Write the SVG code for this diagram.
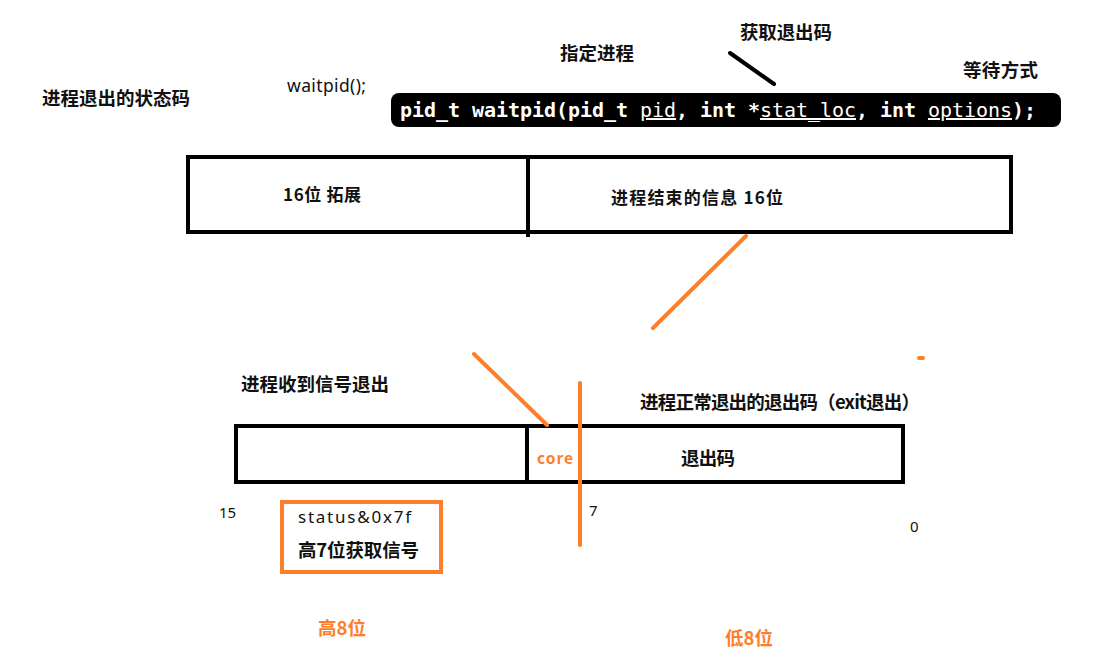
<svg xmlns="http://www.w3.org/2000/svg" width="1113" height="657" viewBox="0 0 1113 657">
<style>
.t{font-family:"Noto Sans CJK SC","Noto Sans",sans-serif;font-weight:bold;font-size:18.5px;fill:#111}
.n{font-family:"Noto Sans","Noto Sans CJK SC",sans-serif;font-size:15px;fill:#111}
.o{font-family:"Noto Sans CJK SC","Noto Sans",sans-serif;font-weight:bold;font-size:18.5px;fill:#fd7f2c}
.box{fill:#fff;stroke:#000;stroke-width:4}
.ol{stroke:#fd7f2c;stroke-width:4;stroke-linecap:round;fill:none}
.code{font-family:"DejaVu Sans Mono","Liberation Mono",monospace;font-weight:bold;font-size:20px;fill:#fff}
</style>
<rect width="1113" height="657" fill="#fff"/>
<g id="labels-top">
<text class="t" x="42" y="105" textLength="148">进程退出的状态码</text>
<text class="n" x="287" y="92" style="font-size:17.5px" textLength="79">waitpid();</text>
<text class="t" x="560" y="60" textLength="74">指定进程</text>
<text class="t" x="740" y="39" textLength="92">获取退出码</text>
<text class="t" x="963" y="77" textLength="75">等待方式</text>
</g>
<g id="code">
<rect x="391" y="93" width="670" height="34" rx="8" fill="#000"/>
<text class="code" x="400" y="117" xml:space="preserve" textLength="636">pid_t waitpid(pid_t <tspan text-decoration="underline" font-weight="normal">pid</tspan>, int *<tspan text-decoration="underline" font-weight="normal">stat_loc</tspan>, int <tspan text-decoration="underline" font-weight="normal">options</tspan>);</text>
</g>
<g id="top-box">
<rect class="box" x="188" y="157" width="823" height="75"/>
<line x1="528" y1="157" x2="528" y2="237" stroke="#000" stroke-width="4"/>
<text class="t" x="283" y="201" style="font-size:17px" textLength="78">16位 拓展</text>
<text class="t" x="611" y="204" style="font-size:17px" textLength="172">进程结束的信息 16位</text>
</g>
<g id="bottom-box">
<rect class="box" x="236" y="426" width="667" height="56"/>
<line x1="527" y1="424" x2="527" y2="484" stroke="#000" stroke-width="4"/>
<text class="o" x="537" y="464" style="font-size:15.5px;font-weight:600" textLength="36">core</text>
<text class="t" x="681" y="465" textLength="54">退出码</text>
</g>
<g id="bottom-labels">
<text class="t" x="241" y="391" textLength="148">进程收到信号退出</text>
<text class="t" x="640" y="409" textLength="280">进程正常退出的退出码（exit退出）</text>
<text class="n" x="219" y="518">15</text>
<text class="n" x="589" y="516">7</text>
<text class="n" x="910" y="532">0</text>
<text class="o" x="318" y="635" textLength="48">高8位</text>
<text class="o" x="725" y="645" textLength="48">低8位</text>
</g>
<g id="signal-box">
<rect x="282" y="502" width="159" height="70" fill="none" stroke="#fd7f2c" stroke-width="4"/>
<text class="n" x="298" y="523" style="font-size:17px" textLength="113">status&amp;0x7f</text>
<text class="t" x="298" y="557" textLength="121">高7位获取信号</text>
</g>
<g id="connectors">
<line x1="730" y1="53" x2="774" y2="84" stroke="#000" stroke-width="4" stroke-linecap="round"/>
<line class="ol" x1="746" y1="236" x2="653" y2="328"/>
<line class="ol" x1="474" y1="354" x2="547" y2="425"/>
<line class="ol" x1="580" y1="383" x2="580" y2="545"/>
<line class="ol" x1="919" y1="358" x2="923" y2="358"/>
</g>
</svg>
